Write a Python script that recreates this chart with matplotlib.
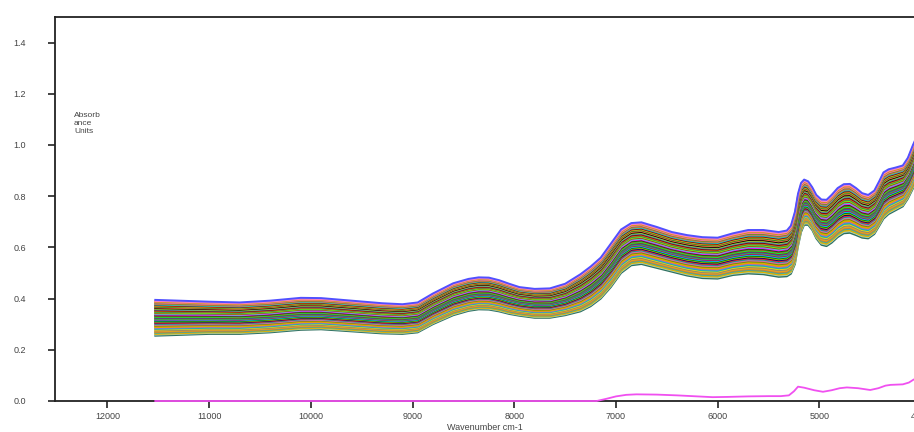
import numpy as np
import matplotlib
matplotlib.use("Agg")
import matplotlib.pyplot as plt

# ---- data ----
wavenumber = [11530, 11300, 11000, 10700, 10400, 10100, 9900, 9600, 9300, 9100,
              8950, 8800, 8600, 8450, 8350, 8250, 8150, 8050, 7950, 7800, 7650, 7500,
              7350, 7250, 7150, 7050, 6950, 6850, 6750, 6600, 6450, 6300,
              6150, 6000, 5850, 5700, 5550, 5400, 5320, 5280, 5240, 5210,
              5180, 5150, 5110, 5070, 5030, 4980, 4930, 4880, 4820, 4760,
              4700, 4640, 4580, 4520, 4460, 4410, 4370, 4320, 4250, 4180,
              4130, 4080, 4000, 3950]

upper = [0.395, 0.392, 0.388, 0.385, 0.392, 0.403, 0.402, 0.392, 0.382, 0.378,
         0.385, 0.420, 0.460, 0.477, 0.483, 0.482, 0.472, 0.458, 0.445, 0.438, 0.440, 0.458,
         0.495, 0.525, 0.560, 0.615, 0.670, 0.695, 0.698, 0.680, 0.660, 0.648,
         0.640, 0.638, 0.655, 0.668, 0.668, 0.660, 0.666, 0.685, 0.740, 0.810,
         0.852, 0.865, 0.858, 0.835, 0.805, 0.787, 0.786, 0.805, 0.832, 0.847,
         0.848, 0.832, 0.812, 0.805, 0.822, 0.860, 0.893, 0.905, 0.912, 0.920,
         0.950, 1.000, 1.070, 1.110]

lower = [0.255, 0.258, 0.262, 0.262, 0.268, 0.278, 0.280, 0.272, 0.264, 0.262,
         0.268, 0.300, 0.335, 0.352, 0.358, 0.357, 0.350, 0.340, 0.333, 0.325, 0.325, 0.335,
         0.350, 0.370, 0.400, 0.445, 0.500, 0.530, 0.535, 0.520, 0.505, 0.490,
         0.480, 0.478, 0.492, 0.498, 0.495, 0.485, 0.487, 0.497, 0.535, 0.605,
         0.660, 0.688, 0.688, 0.668, 0.635, 0.610, 0.605, 0.618, 0.640, 0.655,
         0.657, 0.648, 0.638, 0.635, 0.652, 0.685, 0.712, 0.730, 0.745, 0.760,
         0.790, 0.830, 0.890, 0.930]

# relative position of each sample spectrum inside the band (0 = lowest, 1 = highest)
levels = [0.00, 0.03, 0.05, 0.08, 0.10, 0.12, 0.15, 0.17, 0.19, 0.22,
          0.24, 0.26, 0.28, 0.30, 0.33, 0.35, 0.37, 0.39, 0.41, 0.43,
          0.45, 0.47, 0.49, 0.51, 0.53, 0.55, 0.57, 0.59, 0.61, 0.63,
          0.65, 0.67, 0.69, 0.71, 0.73, 0.75, 0.77, 0.79, 0.81, 0.83,
          0.85, 0.87, 0.89, 0.91, 0.93, 0.95, 0.97, 1.00]

colors = ["#2f6f5f", "#9fd0c0", "#e0b000", "#3cb0a0", "#c08040", "#e6a020",
          "#808080", "#ffd700", "#20b2aa", "#9370db", "#ff8c00", "#c0c000",
          "#808000", "#d070a0", "#00a0a0", "#ff2020", "#000080", "#b0b000",
          "#008000", "#00c0ff", "#c00060", "#32cd32", "#4040c0", "#8b4513",
          "#00ff40", "#a0522d", "#006400", "#ff00ff", "#40e0d0", "#b22222",
          "#7cfc00", "#2e8b57", "#d2691e", "#800000", "#4682b4", "#9acd32",
          "#000000", "#ff6347", "#228b22", "#daa520", "#8b0000", "#00ced1",
          "#e07050", "#6b8e23", "#ff69b4", "#c8a000", "#ff80c0", "#5050ff"]

diff_wn = [11530, 7190, 7100, 7000, 6900, 6800, 6600, 6400, 6200, 6050,
           5900, 5700, 5500, 5380, 5300, 5250, 5210, 5150, 5050, 4965,
           4880, 4800, 4730, 4620, 4500, 4420, 4350, 4300, 4180, 4120,
           4080, 4000, 3950]
diff_val = [0.000, 0.000, 0.008, 0.018, 0.024, 0.026, 0.025, 0.022, 0.018, 0.015,
            0.016, 0.018, 0.019, 0.019, 0.022, 0.038, 0.056, 0.052, 0.042, 0.036,
            0.042, 0.050, 0.053, 0.050, 0.043, 0.050, 0.060, 0.063, 0.065, 0.072,
            0.082, 0.100, 0.115]

xticks = [12000, 11000, 10000, 9000, 8000, 7000, 6000, 5000, 4000]
yticks = [0.0, 0.2, 0.4, 0.6, 0.8, 1.0, 1.2, 1.4]

# ---- figure ----
plt.rcParams['font.family'] = ['Liberation Sans', 'DejaVu Sans']
fig = plt.figure(figsize=(9.14, 4.32), dpi=100)
W, H = 914, 432
x_left, x_right = 55, 940
y_top, y_bot = 17, 401
ax = fig.add_axes([x_left / W, (H - y_bot) / H, (x_right - x_left) / W, (y_bot - y_top) / H])

wn = np.array(wavenumber, float)
up = np.array(upper)
lo = np.array(lower)
for lev, col in zip(levels, colors):
    ax.plot(wn, lo + lev * (up - lo), color=col, lw=1.4, solid_joinstyle='round')

ax.plot(diff_wn, diff_val, color="#f050f0", lw=1.3, zorder=3, clip_on=False)

ax.set_xlim(12516, 3814)
ax.set_ylim(0, 1.5)
ax.set_xticks(xticks)
ax.set_xticklabels([str(t) for t in xticks])
ax.set_yticks(yticks)
ax.set_yticklabels([f"{t:.1f}" for t in yticks])

ax.tick_params(axis='both', direction='out', length=5, width=1.2, colors='#222',
               labelsize=6.5, labelcolor='#444')
ax.tick_params(axis='y', pad=16)
ax.tick_params(axis='x', pad=3)
for s in ax.spines.values():
    s.set_linewidth(1.3)
    s.set_color('#222')

fig.text(74 / W, 1 - 112 / H, "Absorb\nance\nUnits", fontsize=6, color='#444',
         va='top', ha='left', linespacing=1.2)
fig.text(485 / W, 1 - 428 / H, "Wavenumber cm-1", fontsize=6.5, color='#444',
         ha='center', va='center')

fig.savefig("out.png", dpi=100)
